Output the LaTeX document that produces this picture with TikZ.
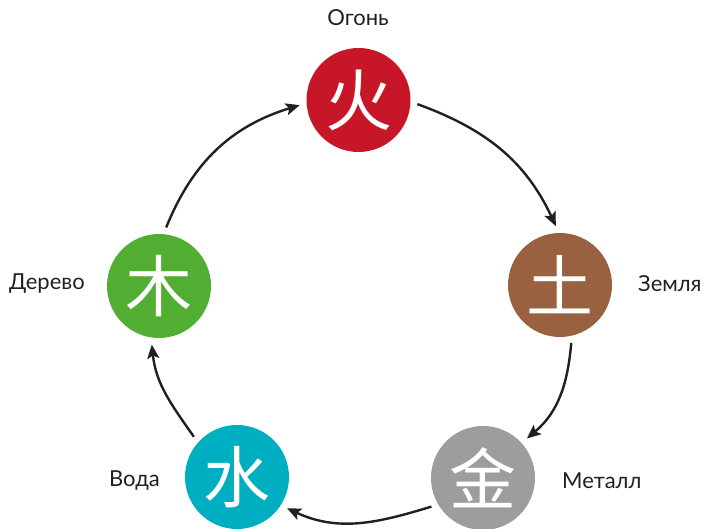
\documentclass[tikz,border=0pt]{standalone}
\usepackage{fontspec}
\setmainfont{Lato}
\newfontfamily\cjk{Noto Sans CJK SC}
\usetikzlibrary{arrows.meta}
\definecolor{cfire}{HTML}{C71628}
\definecolor{cearth}{HTML}{9A6140}
\definecolor{cmetal}{HTML}{9D9D9D}
\definecolor{cwater}{HTML}{00AEC1}
\definecolor{cwood}{HTML}{52AE32}
\definecolor{ctext}{HTML}{231F20}
\begin{document}
\begin{tikzpicture}[x=1pt,y=1pt,
  elem/.style={circle, minimum size=104pt, inner sep=0pt, outer sep=7pt, text=white,
    font=\cjk\fontsize{67}{67}\selectfont},
  lbl/.style={font=\fontsize{22}{22}\selectfont, text=ctext, inner sep=0pt},
  flow/.style={-{Stealth[length=14pt,width=12pt,inset=3pt]}, line width=2.4pt, draw=ctext}]
\useasboundingbox (0,0) rectangle (706,528);
\node[elem, fill=cfire]  (fire)  at (358.5,428) {火};
\node[elem, fill=cearth] (earth) at (560,243) {土};
\node[elem, fill=cmetal] (metal) at (483,50) {金};
\node[elem, fill=cwater] (water) at (237,51) {水};
\node[elem, fill=cwood]  (wood)  at (159,242) {木};
\node[lbl] (lfire) at (358,510) {Огонь};
\node[lbl, anchor=west] (learth) at (638,244) {Земля};
\node[lbl, anchor=west] (lmetal) at (562,47) {Металл};
\node[lbl, anchor=east] (lwater) at (160,47) {Вода};
\node[lbl, anchor=east] (lwood) at (85,244) {Дерево};
\draw[flow] (fire.-4) to[out=-20, in=115] (earth.94);
\draw[flow] (earth.-79) to[out=-95, in=40] (metal.42);
\draw[flow] (metal.-151) to[out=197, in=-25] (water.-32);
\draw[flow] (water.137) to[out=125, in=-84] (wood.-97);
\draw[flow] (wood.83) to[out=68, in=-163] (fire.185);
\end{tikzpicture}
\end{document}
